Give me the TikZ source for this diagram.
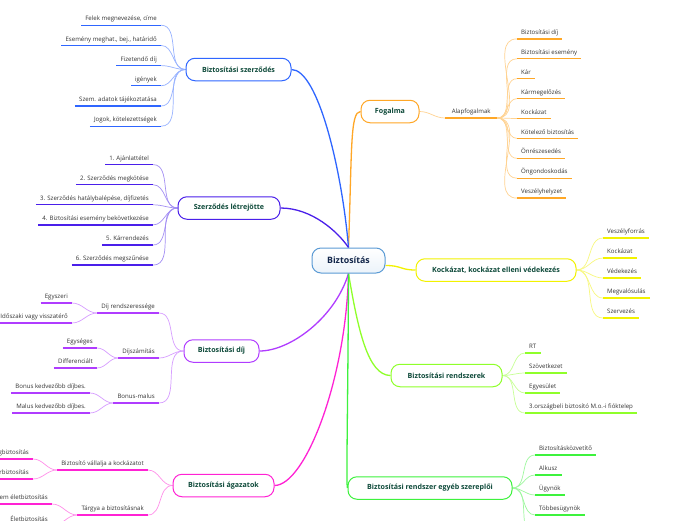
\documentclass[tikz,border=0pt]{standalone}
\usepackage{fontspec}
\setmainfont{Open Sans}
\usetikzlibrary{backgrounds}
\definecolor{hubline}{HTML}{5B9BD5}
\definecolor{hubtext}{HTML}{12264A}
\definecolor{boxtext}{HTML}{0E4A3A}
\definecolor{leaftext}{HTML}{333333}
\definecolor{cszerz}{HTML}{2F66FF}
\definecolor{cletre}{HTML}{4A1FEA}
\definecolor{cdij}{HTML}{B03CFF}
\definecolor{cagaz}{HTML}{FF22D4}
\definecolor{cfog}{HTML}{FFA726}
\definecolor{ckock}{HTML}{F2F200}
\definecolor{crend}{HTML}{8FFF2A}
\definecolor{cegyeb}{HTML}{3DF23D}
\begin{document}
\begin{tikzpicture}[x=1pt,y=-1pt,
    hub/.style={draw=hubline, line width=1pt, rounded corners=9pt,
        top color=white, bottom color=hubline!12, minimum width=73pt,
        minimum height=25pt, font=\fontsize{8.8}{10}\selectfont\bfseries, text=hubtext},
    topic/.style={draw=#1, line width=1pt, rounded corners=9pt, fill=white,
        minimum height=22.5pt, font=\fontsize{7.1}{8}\selectfont\bfseries, text=boxtext},
    leaf/.style={inner xsep=4pt, inner ysep=3pt, text height=4.6pt, text depth=1.2pt,
        font=\fontsize{6.1}{7}\selectfont, text=leaftext,
        append after command={(\tikzlastnode.south west) edge[draw=#1, line width=1.3pt]
            (\tikzlastnode.south east)}},
    main/.style={draw=#1, line width=1.3pt},
    twig/.style={draw=#1!50, line width=0.7pt}]
    \useasboundingbox (0,0) rectangle (696,520);
    \clip (0,0) rectangle (696,520);

    \node[hub] (hub) at (348.5,260.5) {Biztosítás};

    % Fogalma
    \node[topic=cfog, minimum width=58pt] (fog) at (390,111.5) {Fogalma};
    \node[leaf=cfog, anchor=south west, minimum width=52pt] (alap) at (445,118) {Alapfogalmak};
    \foreach \t [count=\i] in {Biztosítási díj, Biztosítási esemény, Kár, Kármegelőzés,
        Kockázat, Kötelező biztosítás, Önrészesedés, Öngondoskodás, Veszélyhelyzet}
        \node[leaf=cfog, anchor=south west] (a\i) at (517,19+19.9*\i) {\t};

    % Kockazat
    \node[topic=ckock, minimum width=160pt] (kock) at (496,270) {Kockázat, kockázat elleni védekezés};
    \foreach \t [count=\i] in {Veszélyforrás, Kockázat, Védekezés, Megvalósulás, Szervezés}
        \node[leaf=ckock, anchor=south west] (k\i) at (603,218+20*\i) {\t};

    % Rendszerek
    \node[topic=crend, minimum width=111pt] (rend) at (446.5,375.5) {Biztosítási rendszerek};
    \foreach \t [count=\i] in {RT, Szövetkezet, Egyesület, 3.országbeli biztosító M.o.-i fióktelep}
        \node[leaf=crend, anchor=south west] (r\i) at (525,333+20*\i) {\t};

    % Egyeb szereplok
    \node[topic=cegyeb, minimum width=164pt] (egyeb) at (430,488) {Biztosítási rendszer egyéb szereplői};
    \foreach \t [count=\i] in {Biztosításközvetítő, Alkusz, Ügynök, Többesügynök}
        \node[leaf=cegyeb, anchor=south west] (e\i) at (535,435+20*\i) {\t};
    \coordinate (e5) at (535,535);

    % Szerzodes
    \node[topic=cszerz, minimum width=105pt] (szerz) at (238.5,69.5) {Biztosítási szerződés};
    \foreach \t [count=\i] in {{Felek megnevezése, címe}, {Esemény meghat., bej., határidő},
        Fizetendő díj, igények, Szem. adatok tájékoztatása, {Jogok, kötelezettségek}}
        \node[leaf=cszerz, anchor=south east] (s\i) at (161,5+20.2*\i) {\t};

    % Letrejotte
    \node[topic=cletre, minimum width=102pt] (letre) at (229,208) {Szerződés létrejötte};
    \foreach \t [count=\i] in {1. Ajánlattétel, 2. Szerződés megkötése,
        {3. Szerződés hatálybalépése, díjfizetés}, 4. Biztosítási esemény bekövetkezése,
        5. Kárrendezés, 6. Szerződés megszűnése}
        \node[leaf=cletre, anchor=south east] (l\i) at (153,144.5+20.1*\i) {\t};

    % Dij
    \node[topic=cdij, minimum width=75pt] (dij) at (221.5,351) {Biztosítási díj};
    \node[leaf=cdij, anchor=south east] (d1) at (159,313) {Díj rendszeressége};
    \node[leaf=cdij, anchor=south east] (d2) at (159,358) {Díjszámítás};
    \node[leaf=cdij, anchor=south east] (d3) at (159,403) {Bonus-malus};
    \node[leaf=cdij, anchor=south east] (d11) at (72,303) {Egyszeri};
    \node[leaf=cdij, anchor=south east] (d12) at (72,323) {Időszaki vagy visszatérő};
    \node[leaf=cdij, anchor=south east] (d21) at (97,348) {Egységes};
    \node[leaf=cdij, anchor=south east] (d22) at (97,368) {Differenciált};
    \node[leaf=cdij, anchor=south east] (d31) at (90,393) {Bonus kedvezőbb díjbes.};
    \node[leaf=cdij, anchor=south east] (d32) at (90,413) {Malus kedvezőbb díjbes.};

    % Agazatok
    \node[topic=cagaz, minimum width=101pt] (agaz) at (223.5,485.5) {Biztosítási ágazatok};
    \node[leaf=cagaz, anchor=south east] (g1) at (148,470) {Biztosító vállalja a kockázatot};
    \node[leaf=cagaz, anchor=south east] (g2) at (148,515) {Tárgya a biztosításnak};
    \node[leaf=cagaz, anchor=south east] (g11) at (33,459) {Összegbiztosítás};
    \node[leaf=cagaz, anchor=south east] (g12) at (33,479) {Kárbiztosítás};
    \node[leaf=cagaz, anchor=south east] (g21) at (52,504) {Nem életbiztosítás};
    \node[leaf=cagaz, anchor=south east] (g22) at (52,526) {Életbiztosítás};

    \begin{scope}[on background layer]
    \fill[white] (0,0) rectangle (696,520);
    % fo agak
    \draw[main=cfog] (hub.north) .. controls (352,150) and (350,111.5) .. (fog.west);
    \draw[main=cszerz] (szerz.east) .. controls (318,69.5) and (342,170) .. (hub.north);
    \draw[main=cletre] (letre.east) .. controls (312,208) and (338,232) .. (hub.north);
    \draw[main=ckock] ([yshift=-5pt]hub.east) .. controls (402,265.5) and (400,270) .. (kock.west);
    \draw[main=cdij] (hub.south) .. controls (335,318) and (290,351) .. (dij.east);
    \draw[main=cagaz] (hub.south) .. controls (346,380) and (305,485.5) .. (agaz.east);
    \draw[main=crend] (hub.south) .. controls (358,330) and (368,375.5) .. (rend.west);
    \draw[main=cegyeb] (hub.south) .. controls (348,400) and (346,488) .. (egyeb.west);

    % agacskak
    \draw[twig=cfog] (fog.east) to[out=0,in=180] (alap.south west);
    \foreach \i in {1,...,9} \draw[twig=cfog] (alap.south east) to[out=0,in=180] (a\i.south west);
    \foreach \i in {1,...,5} \draw[twig=ckock] (kock.east) to[out=0,in=180] (k\i.south west);
    \foreach \i in {1,...,4} \draw[twig=crend] (rend.east) to[out=0,in=180] (r\i.south west);
    \foreach \i in {1,...,5} \draw[twig=cegyeb] (egyeb.east) to[out=0,in=180] (e\i.south west);
    \foreach \i in {1,...,6} \draw[twig=cszerz] (szerz.west) to[out=180,in=0] (s\i.south east);
    \foreach \i in {1,...,6} \draw[twig=cletre] (letre.west) to[out=180,in=0] (l\i.south east);
    \foreach \i in {1,2,3} \draw[twig=cdij] (dij.west) to[out=180,in=0] (d\i.south east);
    \foreach \i in {1,2} {
        \draw[twig=cdij] (d1.south west) to[out=180,in=0] (d1\i.south east);
        \draw[twig=cdij] (d2.south west) to[out=180,in=0] (d2\i.south east);
        \draw[twig=cdij] (d3.south west) to[out=180,in=0] (d3\i.south east);
        \draw[twig=cagaz] (g1.south west) to[out=180,in=0] (g1\i.south east);
        \draw[twig=cagaz] (g2.south west) to[out=180,in=0] (g2\i.south east);
    }
    \foreach \i in {1,2} \draw[twig=cagaz] (agaz.west) to[out=180,in=0] (g\i.south east);
    \end{scope}
\end{tikzpicture}
\end{document}
